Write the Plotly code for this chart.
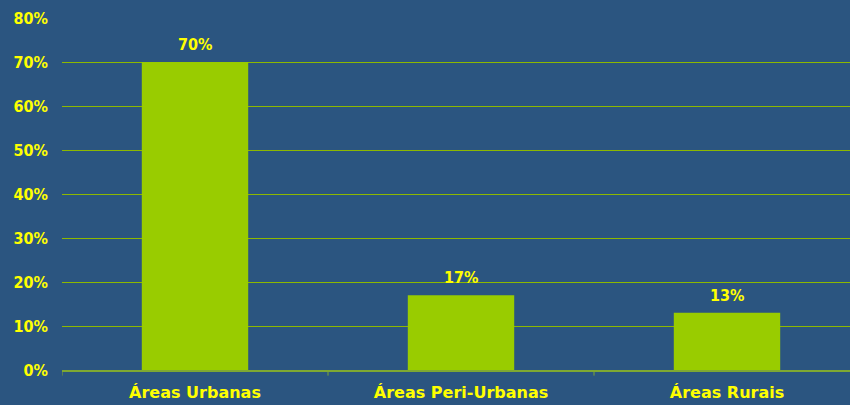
import plotly.graph_objects as go

categories = ["Áreas Urbanas", "Áreas Peri-Urbanas", "Áreas Rurais"]
values = [70, 17, 13]
labels = ["70%", "17%", "13%"]
yticks = [0, 10, 20, 30, 40, 50, 60, 70, 80]
yticklabels = [f"{v}%" for v in yticks]

bg = "#2B5580"
green = "#99CC00"
grid = "#8DB800"
yellow = "#FFFF00"
fontfam = "DejaVu Sans Condensed, DejaVu Sans, sans-serif"
catfont = "DejaVu Sans, sans-serif"

fig = go.Figure(go.Bar(
    x=[0, 1, 2], y=values,
    marker=dict(color=green, line=dict(width=0)), width=0.4,
))
for i, (v, t) in enumerate(zip(values, labels)):
    fig.add_annotation(x=i, y=v, text=f"<b>{t}</b>", showarrow=False,
                       yanchor="bottom", yshift=6,
                       font=dict(color=yellow, size=16, family=fontfam))
fig.update_layout(
    width=850, height=405,
    margin=dict(l=62, r=0, t=18, b=35),
    paper_bgcolor=bg, plot_bgcolor=bg,
    showlegend=False,
    font=dict(family=fontfam, color=yellow),
    xaxis=dict(
        range=[-0.5, -0.5 + 788 / 266], tickmode="array",
        tickvals=[0, 1, 2], ticktext=[f"<b>{c}</b>" for c in categories],
        showgrid=False, zeroline=False,
        showline=True, linecolor="#7FA832", linewidth=2,
        tickfont=dict(size=16, color=yellow, family=catfont),
        ticks="", fixedrange=True, ticklabelstandoff=7,
    ),
    yaxis=dict(
        range=[0, 80], tickmode="array", tickvals=yticks,
        ticktext=[f"<b>{t}</b>" for t in yticklabels],
        showgrid=True, gridcolor=grid, gridwidth=1,
        zeroline=False, showline=False, ticks="",
        tickfont=dict(size=16, color=yellow, family=fontfam),
        ticklabelstandoff=13, fixedrange=True,
    ),
)
for b in [-0.5, 0.5, 1.5]:
    fig.add_shape(type="line", xref="x", yref="paper", x0=b, x1=b, y0=0, y1=-0.016,
                  line=dict(color="#7FA832", width=1))
fig.write_html("out.html", config={"displayModeBar": False},
               post_script="document.body.style.margin='0';document.body.style.background='#2B5580';")
